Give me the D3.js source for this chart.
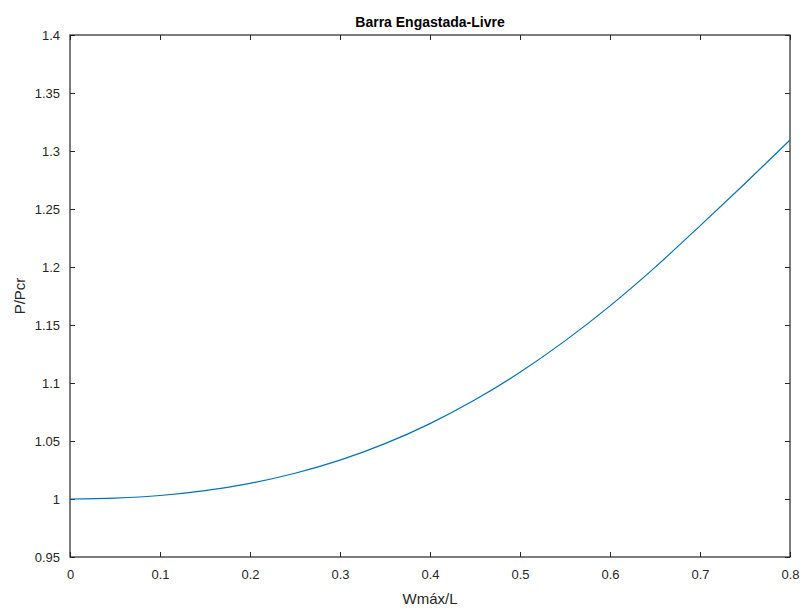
<!DOCTYPE html>
<html>
<head>
<meta charset="utf-8">
<script src="https://cdn.jsdelivr.net/npm/d3@7"></script>
<style>
  body { margin: 0; background: #fff; }
  text { font-family: "Liberation Sans", Arial, sans-serif; fill: #262626; }
</style>
</head>
<body>
<svg></svg>
<script>
// data
var wmax = [0, 0.05, 0.1, 0.15, 0.2, 0.25, 0.3, 0.35, 0.4, 0.45, 0.5, 0.55, 0.6, 0.65, 0.7, 0.75, 0.8];
var pRatio = [1.0000, 1.0008, 1.0030, 1.0072, 1.0135, 1.0222, 1.0335, 1.0477, 1.0650,
              1.0855, 1.1093, 1.1363, 1.1665, 1.1997, 1.2355, 1.2720, 1.3095];
var xTicks = [0, 0.1, 0.2, 0.3, 0.4, 0.5, 0.6, 0.7, 0.8];
var yTicks = [0.95, 1, 1.05, 1.1, 1.15, 1.2, 1.25, 1.3, 1.35, 1.4];

var width = 803, height = 608;
var margin = {top: 35, right: 13, bottom: 51, left: 70};
var w = width - margin.left - margin.right;
var h = height - margin.top - margin.bottom;

var svg = d3.select('svg').attr('width', width).attr('height', height);
var g = svg.append('g').attr('transform', `translate(${margin.left}, ${margin.top})`);

var x = d3.scaleLinear().domain([0, 0.8]).range([0, w]);
var y = d3.scaleLinear().domain([0.95, 1.4]).range([h, 0]);

var fmt = d => String(+d.toFixed(2));

function styleAxis(sel) {
    sel.select('.domain').remove();
    sel.selectAll('.tick line').attr('stroke', '#262626');
    sel.selectAll('.tick text').attr('font-size', 13).attr('fill', '#262626');
}

g.append('g').attr('transform', `translate(0, ${h})`)
    .call(d3.axisBottom(x).tickValues(xTicks).tickFormat(fmt).tickSizeInner(-5).tickSizeOuter(0).tickPadding(13))
    .call(styleAxis);
g.append('g')
    .call(d3.axisTop(x).tickValues(xTicks).tickFormat('').tickSizeInner(-5).tickSizeOuter(0))
    .call(styleAxis);
g.append('g')
    .call(d3.axisLeft(y).tickValues(yTicks).tickFormat(fmt).tickSizeInner(-5).tickSizeOuter(0).tickPadding(10))
    .call(styleAxis);
g.append('g').attr('transform', `translate(${w}, 0)`)
    .call(d3.axisRight(y).tickValues(yTicks).tickFormat('').tickSizeInner(-5).tickSizeOuter(0))
    .call(styleAxis);

// box
g.append('rect').attr('width', w).attr('height', h)
    .attr('fill', 'none').attr('stroke', '#262626').attr('stroke-width', 1.2);

var line = d3.line()
    .x((d, i) => x(wmax[i]))
    .y(d => y(d))
    .curve(d3.curveMonotoneX);

g.append('path').datum(pRatio)
    .attr('fill', 'none')
    .attr('stroke', '#0072BD')
    .attr('stroke-width', 1.2)
    .attr('d', line);

// title and labels
svg.append('text')
    .attr('x', margin.left + w / 2).attr('y', 27)
    .attr('text-anchor', 'middle')
    .attr('font-size', 14).attr('font-weight', 'bold').style('fill', '#000')
    .text('Barra Engastada-Livre');

svg.append('text')
    .attr('x', margin.left + w / 2).attr('y', 604)
    .attr('text-anchor', 'middle')
    .attr('font-size', 15)
    .text('Wmáx/L');

svg.append('text')
    .attr('transform', `translate(25, ${margin.top + h / 2}) rotate(-90)`)
    .attr('text-anchor', 'middle')
    .attr('font-size', 15)
    .text('P/Pcr');
</script>
</body>
</html>
